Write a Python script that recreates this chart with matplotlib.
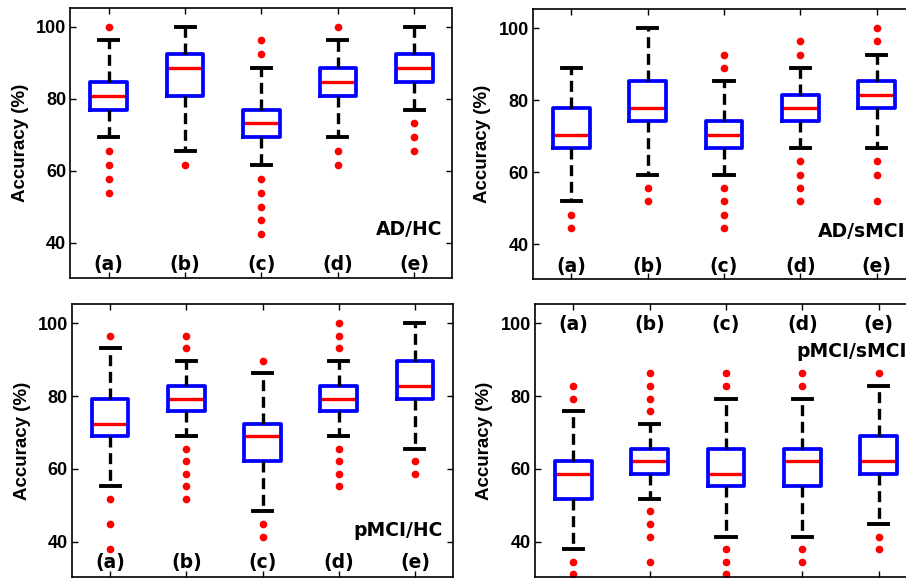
import matplotlib.pyplot as plt

groups = ['(a)', '(b)', '(c)', '(d)', '(e)']

# each box: whisker low, q1, median, q3, whisker high
ad_hc_box = [[69.2, 76.9, 80.8, 84.6, 96.2],
             [65.4, 80.8, 88.5, 92.3, 100.0],
             [61.5, 69.2, 73.1, 76.9, 88.5],
             [69.2, 80.8, 84.6, 88.5, 96.2],
             [76.9, 84.6, 88.5, 92.3, 100.0]]
ad_hc_out = [[100.0, 65.4, 61.5, 57.7, 53.8],
             [61.5],
             [96.2, 92.3, 57.7, 53.8, 50.0, 46.2, 42.3],
             [100.0, 65.4, 61.5],
             [73.1, 69.2, 65.4]]

ad_smci_box = [[51.9, 66.7, 70.4, 77.8, 88.9],
               [59.3, 74.1, 77.8, 85.2, 100.0],
               [59.3, 66.7, 70.4, 74.1, 85.2],
               [66.7, 74.1, 77.8, 81.5, 88.9],
               [66.7, 77.8, 81.5, 85.2, 92.6]]
ad_smci_out = [[48.1, 44.4],
               [55.6, 51.9],
               [92.6, 88.9, 55.6, 51.9, 48.1, 44.4],
               [96.3, 92.6, 63.0, 59.3, 55.6, 51.9],
               [100.0, 96.3, 63.0, 59.3, 51.9]]

pmci_hc_box = [[55.2, 69.0, 72.4, 79.3, 93.1],
               [69.0, 75.9, 79.3, 82.8, 89.7],
               [48.3, 62.1, 69.0, 72.4, 86.2],
               [69.0, 75.9, 79.3, 82.8, 89.7],
               [65.5, 79.3, 82.8, 89.7, 100.0]]
pmci_hc_out = [[96.6, 51.7, 44.8, 37.9],
               [96.6, 93.1, 65.5, 62.1, 58.6, 55.2, 51.7],
               [89.7, 44.8, 41.4],
               [100.0, 96.6, 93.1, 65.5, 62.1, 58.6, 55.2],
               [62.1, 58.6]]

pmci_smci_box = [[37.9, 51.7, 58.6, 62.1, 75.9],
                 [51.7, 58.6, 62.1, 65.5, 72.4],
                 [41.4, 55.2, 58.6, 65.5, 79.3],
                 [41.4, 55.2, 62.1, 65.5, 79.3],
                 [44.8, 58.6, 62.1, 69.0, 82.8]]
pmci_smci_out = [[82.8, 79.3, 34.5, 31.0],
                 [86.2, 82.8, 79.3, 75.9, 48.3, 44.8, 41.4, 34.5],
                 [86.2, 82.8, 37.9, 34.5, 31.0],
                 [86.2, 82.8, 37.9, 34.5],
                 [86.2, 41.4, 37.9]]


def make_stats(box, out):
    stats = []
    for b, f in zip(box, out):
        stats.append(dict(whislo=b[0], q1=b[1], med=b[2], q3=b[3],
                          whishi=b[4], fliers=f))
    return stats


# title, boxes, outliers, axes rect, y of group labels, y of title
panels = [
    ('AD/HC', ad_hc_box, ad_hc_out, [0.0778, 0.5207, 0.4216, 0.4663], 33.8, 43.5),
    ('AD/sMCI', ad_smci_box, ad_smci_out, [0.5883, 0.5181, 0.4216, 0.4663], 33.8, 43.5),
    ('pMCI/HC', pmci_hc_box, pmci_hc_out, [0.0795, 0.0035, 0.4205, 0.4715], 34.2, 43.1),
    ('pMCI/sMCI', pmci_smci_box, pmci_smci_out, [0.5905, 0.0035, 0.4216, 0.4715], 99.7, 92.3),
]

fig = plt.figure(figsize=(9.06, 5.79), dpi=100)

for name, box, out, rect, label_y, name_y in panels:
    ax = fig.add_axes(rect)
    ax.bxp(make_stats(box, out), positions=range(1, 6), widths=0.48,
           capwidths=0.25,
           boxprops=dict(color='blue', linewidth=2.7),
           whiskerprops=dict(color='black', linewidth=2.4, linestyle=(0, (3.3, 1.7))),
           capprops=dict(color='black', linewidth=2.8),
           medianprops=dict(color='red', linewidth=2.4, zorder=1.9),
           flierprops=dict(marker='o', markerfacecolor='red',
                           markeredgecolor='red', markersize=4.5))
    ax.set_xlim(0.5, 5.5)
    ax.set_ylim(30.3, 105.3)
    ax.set_xticks(range(1, 6))
    ax.set_xticklabels([])
    ax.set_yticks([40, 60, 80, 100])
    ax.tick_params(direction='in', top=True, right=True, length=4, width=1, pad=3)
    for lbl in ax.get_yticklabels():
        lbl.set_family('Liberation Sans')
        lbl.set_fontweight('bold')
        lbl.set_fontsize(13)
    for sp in ax.spines.values():
        sp.set_linewidth(1.2)
    ax.set_ylabel('Accuracy (%)', fontsize=13.5, fontweight='bold',
                  family='Liberation Sans')
    ax.yaxis.set_label_coords(-0.109, 0.5)
    for i, g in enumerate(groups):
        ax.text(i + 1, label_y, g, ha='center', va='center',
                fontsize=13.5, fontweight='bold', family='DejaVu Sans')
    ax.text(5.37, name_y, name, ha='right', va='center',
            fontsize=13.5, fontweight='bold', family='DejaVu Sans')

fig.savefig('out.png', dpi=100)
